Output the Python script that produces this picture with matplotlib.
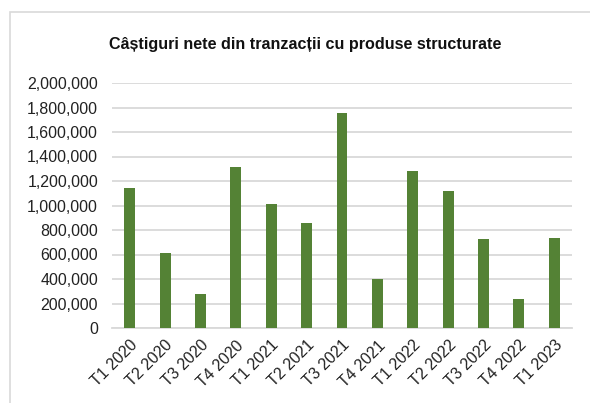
import matplotlib
matplotlib.use("Agg")
import matplotlib.pyplot as plt
from matplotlib.patches import Rectangle
from matplotlib.ticker import FuncFormatter

plt.rcParams['font.family'] = ['Liberation Sans', 'DejaVu Sans']

# quarterly net gains
quarters = ["T1 2020", "T2 2020", "T3 2020", "T4 2020",
            "T1 2021", "T2 2021", "T3 2021", "T4 2021",
            "T1 2022", "T2 2022", "T3 2022", "T4 2022", "T1 2023"]
gains = [1143000, 615000, 280000, 1317000,
         1012000, 860000, 1758000, 400000,
         1284000, 1118000, 726000, 237000, 732000]

W, H = 590, 403
fig = plt.figure(figsize=(W / 100, H / 100), dpi=100)
ax = fig.add_axes([112 / W, 1 - 328 / H, (572 - 112) / W, (328 - 83) / H])

ax.bar(range(len(quarters)), gains, width=0.31, color="#548235", zorder=3)

ax.set_ylim(0, 2000000)
ax.set_xlim(-0.5, len(quarters) - 0.5)
ax.set_yticks(range(0, 2000001, 200000))
ax.yaxis.set_major_formatter(FuncFormatter(lambda v, p: "{:,.0f}".format(v)))
ax.grid(axis="y", color="#d9d9d9", linewidth=1.3, zorder=0)
for s in ["top", "right", "left"]:
    ax.spines[s].set_visible(False)
ax.spines["bottom"].set_color("#d9d9d9")
ax.spines["bottom"].set_linewidth(1.3)
ax.tick_params(axis="both", length=0, labelsize=11.5, colors="#222222")
ax.tick_params(axis="y", pad=10)
ax.set_xticks(range(len(quarters)))
ax.set_xticklabels(quarters, rotation=45, ha="right", rotation_mode="anchor")
ax.tick_params(axis="x", pad=7)

fig.text(0.5 * (112 + 498) / W, 1 - 44 / H, "Câștiguri nete din tranzacții cu produse structurate",
         ha="center", va="center", fontsize=11.6, fontweight="bold", color="#111111")

# chart frame
fig.patches.append(Rectangle((9.5 / W, -0.1), 1.2, 1 - 11.5 / H + 0.1, transform=fig.transFigure,
                             fill=False, edgecolor="#d9d9d9", linewidth=1.2))

fig.savefig("out.png", dpi=100)
